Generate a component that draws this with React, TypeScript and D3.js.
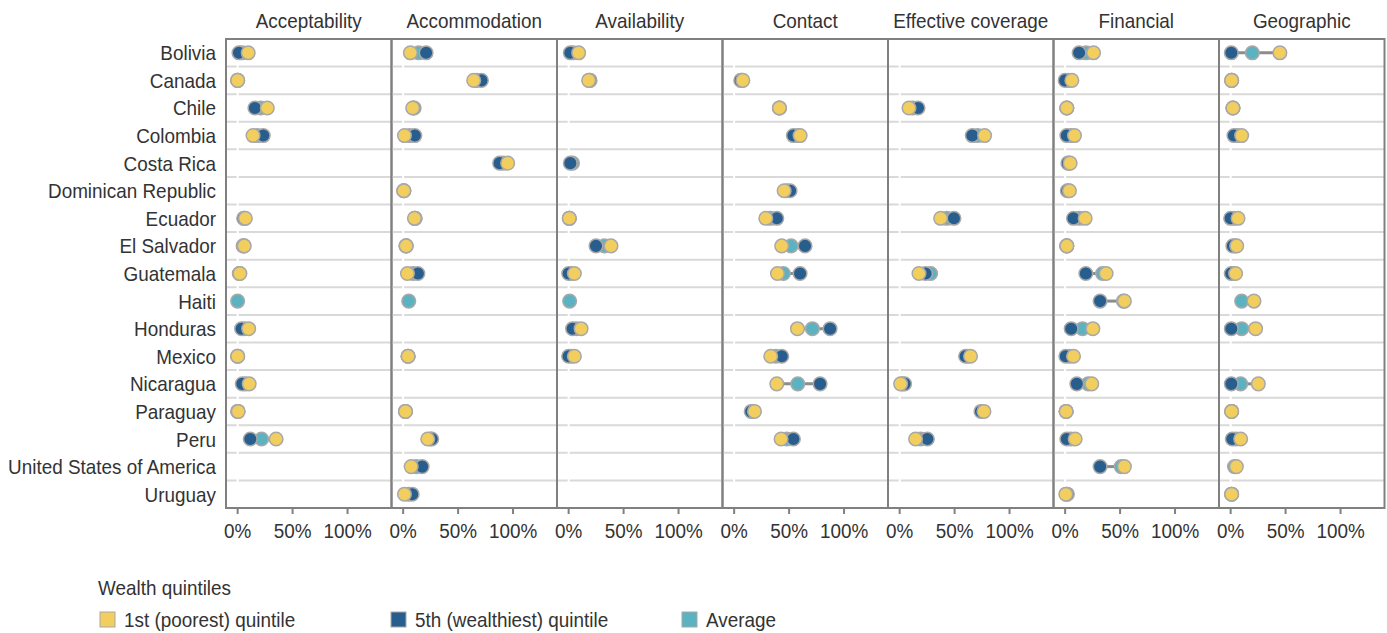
import React from "react";
import * as d3 from "d3";

const panels = [
  "Acceptability",
  "Accommodation",
  "Availability",
  "Contact",
  "Effective coverage",
  "Financial",
  "Geographic",
];

const countries = [
  "Bolivia",
  "Canada",
  "Chile",
  "Colombia",
  "Costa Rica",
  "Dominican Republic",
  "Ecuador",
  "El Salvador",
  "Guatemala",
  "Haiti",
  "Honduras",
  "Mexico",
  "Nicaragua",
  "Paraguay",
  "Peru",
  "United States of America",
  "Uruguay",
];

const tickValues = [0, 0.5, 1];
const tickLabels = ["0%", "50%", "100%"];

// values in percent, one row per panel, one entry per country (null = no data)
const poorest: (number | null)[][] = [
  [9.6, 0, 27, 14, null, null, 7, 6, 2, null, 10, 0, 10.5, 0.5, 35, null, null],
  [6.6, 64.2, 8.7, 1.2, 95.1, 0.6, 10.3, 2.7, 3.9, null, null, 4.5, null, 2.1, 22.4, 7.3, 1.2],
  [9.1, 18.2, null, null, null, null, 0.6, 38.5, 5.2, null, 11.3, 5.2, null, null, null, null, null],
  [null, 7.9, 41.2, 60, null, 45.5, 28.8, 43.3, 39.4, null, 57.6, 33.3, 38.8, 18.5, 42.7, null, null],
  [null, null, 8.5, 77.3, null, null, 37.3, null, 17.6, null, null, 64.5, 0.9, 76.7, 14.5, null, null],
  [25.8, 6.1, 1.5, 8.5, 4.5, 3.9, 18.2, 1.5, 37.3, 53.9, 25.2, 7.6, 24.2, 0.9, 9.1, 53.9, 0.6],
  [44.8, 0.9, 2.1, 10, null, null, 6.7, 5.5, 4.5, 21.2, 22.7, null, 25.2, 0.9, 9.1, 5.2, 0.9],
];

const wealthiest: (number | null)[][] = [
  [1.2, 0, 15.7, 23.3, null, null, 5.5, 5, 1.5, null, 3.6, 0, 4.2, 0, 11.5, null, null],
  [20.9, 71.2, 10, 10.6, 87.8, 0.6, 11, 2.7, 13.4, null, null, 4.5, null, 2.1, 26, 17.3, 8.2],
  [1.5, 19.5, null, null, 1.5, null, 0.6, 24.9, 0, null, 3.6, 0, null, null, null, null, null],
  [null, 6, 41.2, 53.9, null, 50.9, 38.8, 64.5, 60, null, 87.3, 43.3, 78.2, 15.5, 53.9, null, null],
  [null, null, 16.7, 66.1, null, null, 49.4, null, 23.6, null, null, 60, 4.5, 74, 25.2, null, null],
  [12.7, 0, 1.5, 1.5, 2.5, 2, 7.6, 1.5, 18.8, 31.8, 5.5, 0.6, 10.6, 0.9, 1.5, 31.8, 2],
  [0.6, 0.9, 2.1, 3, null, null, 0, 2, 0.5, null, 0.6, null, 0.6, 0.9, 1.5, null, 0.9],
];

const average: (number | null)[][] = [
  [4, 0, 21, 18, null, null, 6, 5.5, 1.8, 0, 6, 0, 7, 0.2, 21.8, null, null],
  [14.2, 67, 9.3, 6, 91, 0.6, 10.6, 2.7, 9, 5.1, null, 4.5, null, 2.1, 25, 12, 5],
  [4, 19, null, null, 3.5, null, 0.6, 32.5, 2.5, 0.9, 7, 2.5, null, null, null, null, null],
  [null, 7, 41.2, 58, null, 48, 33, 51.8, 44.8, null, 71.2, 38, 57.9, 17, 47.9, null, null],
  [null, null, 12, 71, null, null, 43, null, 28.2, null, null, 62, 2.5, 75, 19, null, null],
  [19, 3, 1.5, 5, 3.5, 3, 13, 1.5, 34, 53, 15.8, 4, 21, 0.9, 5, 51, 1.2],
  [19.7, 0.9, 2.1, 6, null, null, 3, 4, 2.5, 10, 10, null, 9.1, 0.9, 5, 3.5, 0.9],
];

const legendLabels = ["1st (poorest) quintile", "5th (wealthiest) quintile", "Average"];
const legendTitle = "Wealth quintiles";

const COLORS = { poorest: "#F2CE5E", wealthiest: "#285E8D", average: "#5BB3C1" };
const FONT = "'Liberation Sans', Arial, sans-serif";
const TEXT = "#333333";
const FRAME = "#808080";
const FS = 21;
const SX = 0.9;

function T(props: { x: number; y: number; anchor?: string; children: React.ReactNode }) {
  return (
    <text
      transform={`translate(${props.x},${props.y}) scale(${SX},1)`}
      textAnchor={props.anchor || "start"}
      fontSize={FS}
      fill={TEXT}
    >
      {props.children}
    </text>
  );
}

export default function App() {
  const W = 1387;
  const H = 633;
  const top = 39;
  const bottom = 508;
  const left = 226;
  const right = 1384.5;

  const panelScale = d3.scaleBand<string>().domain(panels).range([left, right]);
  const y = d3.scaleBand<string>().domain(countries).range([top, bottom]);
  const pw = panelScale.bandwidth();
  const r = 6.8;

  return (
    <svg
      width={W}
      height={H}
      style={{ position: "absolute", left: 0, top: 0, background: "#fff" }}
      fontFamily={FONT}
    >
      {countries.map((c) => (
        <T key={c} x={216} y={(y(c) as number) + y.bandwidth() / 2 + 7.5} anchor="end">
          {c}
        </T>
      ))}
      {panels.map((p, pi) => {
        const x0 = panelScale(p) as number;
        const x = d3.scaleLinear().domain([-0.106, 1.4]).range([x0, x0 + pw]);
        return (
          <g key={p}>
            <T x={x0 + pw / 2} y={27.5} anchor="middle">
              {p}
            </T>
            {countries.slice(1).map((c) => (
              <line
                key={c}
                x1={x0}
                x2={x0 + pw}
                y1={y(c) as number}
                y2={y(c) as number}
                stroke="#d9d9d9"
                strokeWidth={2}
              />
            ))}
            <line x1={x(0)} x2={x(0)} y1={top} y2={bottom} stroke="#fff" strokeWidth={2} />
            {countries.map((c, ci) => {
              const q = poorest[pi][ci];
              const w = wealthiest[pi][ci];
              const a = average[pi][ci];
              const vals = [q, w, a].filter((v) => v !== null) as number[];
              if (vals.length === 0) return null;
              const cy = (y(c) as number) + y.bandwidth() / 2;
              const mn = (d3.min(vals) as number) / 100;
              const mx = (d3.max(vals) as number) / 100;
              return (
                <g key={c}>
                  <line x1={x(mn)} x2={x(mx)} y1={cy} y2={cy} stroke="#8c8c8c" strokeWidth={3} />
                  {a !== null && (
                    <circle cx={x(a / 100)} cy={cy} r={r} fill={COLORS.average} stroke="#a8a8a8" strokeWidth={1.5} />
                  )}
                  {w !== null && (
                    <circle cx={x(w / 100)} cy={cy} r={r} fill={COLORS.wealthiest} stroke="#a8a8a8" strokeWidth={1.5} />
                  )}
                  {q !== null && (
                    <circle cx={x(q / 100)} cy={cy} r={r} fill={COLORS.poorest} stroke="#a8a8a8" strokeWidth={1.5} />
                  )}
                </g>
              );
            })}
            <rect x={x0} y={top} width={pw} height={bottom - top} fill="none" stroke={FRAME} strokeWidth={2} />
            {tickValues.map((t, ti) => (
              <g key={t}>
                <line x1={x(t)} x2={x(t)} y1={bottom} y2={bottom + 6} stroke={FRAME} strokeWidth={2} />
                <T x={x(t)} y={538} anchor="middle">
                  {tickLabels[ti]}
                </T>
              </g>
            ))}
          </g>
        );
      })}
      <T x={98} y={595}>
        {legendTitle}
      </T>
      {legendLabels.map((l, i) => {
        const lx = [100, 391, 682][i];
        const col = [COLORS.poorest, COLORS.wealthiest, COLORS.average][i];
        return (
          <g key={l}>
            <rect x={lx} y={612} width={15} height={15} fill={col} stroke="#a8a8a8" strokeWidth={1} />
            <T x={lx + 24} y={627}>
              {l}
            </T>
          </g>
        );
      })}
    </svg>
  );
}
